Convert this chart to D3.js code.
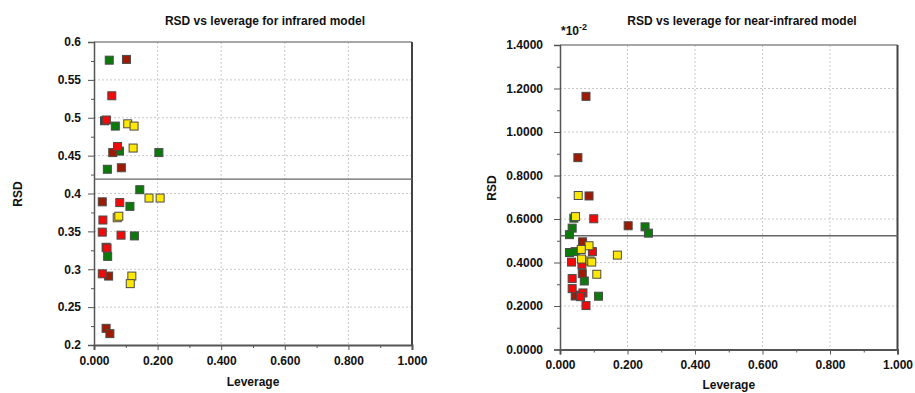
<!DOCTYPE html>
<html><head><meta charset="utf-8">
<script src="https://cdn.jsdelivr.net/npm/d3@7"></script>
<style>
body{margin:0;background:#fff}
svg{display:block}
text{font-family:"Liberation Sans",Arial,sans-serif;font-weight:bold;fill:#111}
</style>
</head><body>
<svg id="c" width="915" height="393"></svg>
<script>
// ---------- data ----------
const seriesColors = ["#0b7a0b", "#9e1a00", "#f20a0a", "#ffe800"]; // green, dark red, red, yellow

// Infrared model: [leverage, RSD]
const irGreen   = [[0.048,0.576],[0.067,0.489],[0.080,0.456],[0.204,0.454],[0.042,0.432],[0.144,0.405],[0.113,0.383],[0.127,0.344],[0.043,0.317]];
const irDarkRed = [[0.102,0.577],[0.033,0.496],[0.059,0.454],[0.086,0.434],[0.026,0.389],[0.038,0.329],[0.046,0.291],[0.038,0.222],[0.050,0.215]];
const irRed     = [[0.056,0.529],[0.039,0.497],[0.074,0.462],[0.081,0.388],[0.028,0.365],[0.026,0.349],[0.085,0.345],[0.041,0.328],[0.026,0.294]];
const irYellow  = [[0.106,0.492],[0.126,0.489],[0.123,0.460],[0.173,0.394],[0.208,0.394],[0.073,0.368],[0.078,0.370],[0.119,0.291],[0.114,0.281]];
const irThreshold = 0.419;

// Near-infrared model: [leverage, RSD (*10^-2)]
const nirGreen   = [[0.041,0.604],[0.252,0.564],[0.262,0.535],[0.036,0.558],[0.028,0.528],[0.045,0.450],[0.028,0.446],[0.072,0.315],[0.114,0.245]];
const nirDarkRed = [[0.077,1.164],[0.053,0.882],[0.086,0.706],[0.202,0.569],[0.067,0.495],[0.066,0.349],[0.045,0.246],[0.051,0.250]];
const nirRed     = [[0.100,0.601],[0.096,0.450],[0.034,0.402],[0.065,0.390],[0.036,0.326],[0.036,0.280],[0.068,0.260],[0.061,0.243],[0.077,0.202]];
const nirYellow  = [[0.054,0.708],[0.046,0.611],[0.086,0.477],[0.063,0.460],[0.064,0.416],[0.089,0.407],[0.094,0.402],[0.109,0.346],[0.170,0.434]];
const nirThreshold = 0.523;

const irYTicks  = [0.2,0.25,0.3,0.35,0.4,0.45,0.5,0.55,0.6];
const nirYTicks = [0,0.2,0.4,0.6,0.8,1.0,1.2,1.4];
const xTicks    = [0,0.2,0.4,0.6,0.8,1.0];

// ---------- drawing ----------
const svg = d3.select("#c");

function chart(cfg){
  const g = svg.append("g");
  const x = d3.scaleLinear().domain([0,1]).range([cfg.x0, cfg.x1]);
  const y = d3.scaleLinear().domain(cfg.yDomain).range([cfg.yBot, cfg.yTop]);

  // grid
  g.append("g").selectAll("line").data(xTicks.slice(1,-1)).join("line")
    .attr("x1",d=>x(d)).attr("x2",d=>x(d)).attr("y1",cfg.yTop).attr("y2",cfg.yBot)
    .attr("stroke","#c8c8c8").attr("stroke-dasharray","2,2");
  g.append("g").selectAll("line").data(cfg.yTicks.slice(1,-1)).join("line")
    .attr("y1",d=>y(d)).attr("y2",d=>y(d)).attr("x1",cfg.x0).attr("x2",cfg.x1)
    .attr("stroke","#c8c8c8").attr("stroke-dasharray","2,2");

  // frame
  g.append("line").attr("x1",cfg.x0).attr("x2",cfg.x1).attr("y1",cfg.yTop).attr("y2",cfg.yTop).attr("stroke","#8a8a8a").attr("stroke-width",1.5);
  g.append("line").attr("x1",cfg.x1).attr("x2",cfg.x1).attr("y1",cfg.yTop).attr("y2",cfg.yBot).attr("stroke","#444").attr("stroke-width",2);

  // axes
  const minorY = [];
  for(let i=0;i<cfg.yTicks.length-1;i++) minorY.push((cfg.yTicks[i]+cfg.yTicks[i+1])/2);
  const minorX = [0.1,0.3,0.5,0.7,0.9];

  const ya = g.append("g").attr("transform",`translate(${cfg.x0},0)`)
    .call(d3.axisLeft(y).tickValues(cfg.yTicks).tickFormat(cfg.yFmt).tickSize(6).tickPadding(cfg.yPad));
  ya.select(".domain").attr("stroke","#555").attr("stroke-width",1.5);
  ya.selectAll(".tick line").attr("stroke","#555");
  ya.selectAll("text").style("font-size","12px").style("font-family","'Liberation Sans',Arial,sans-serif").style("font-weight","bold").attr("fill","#111");
  g.append("g").attr("transform",`translate(${cfg.x0},0)`)
    .call(d3.axisLeft(y).tickValues(minorY).tickFormat("").tickSize(3))
    .call(s=>{s.select(".domain").remove(); s.selectAll("line").attr("stroke","#555");});

  const xa = g.append("g").attr("transform",`translate(0,${cfg.yBot})`)
    .call(d3.axisBottom(x).tickValues(xTicks).tickFormat(d3.format(".3f")).tickSize(5).tickPadding(6));
  xa.select(".domain").attr("stroke","#555").attr("stroke-width",2);
  xa.selectAll(".tick line").attr("stroke","#555");
  xa.selectAll("text").style("font-size","12px").style("font-family","'Liberation Sans',Arial,sans-serif").style("font-weight","bold").attr("fill","#111");
  g.append("g").attr("transform",`translate(0,${cfg.yBot})`)
    .call(d3.axisBottom(x).tickValues(minorX).tickFormat("").tickSize(3))
    .call(s=>{s.select(".domain").remove(); s.selectAll("line").attr("stroke","#555");});

  // threshold line
  g.append("line").attr("x1",cfg.x0).attr("x2",cfg.x1).attr("y1",y(cfg.threshold)).attr("y2",y(cfg.threshold))
    .attr("stroke","#666").attr("stroke-width",1.3);

  // points
  cfg.series.forEach((pts,i)=>{
    g.append("g").selectAll("rect").data(pts).join("rect")
      .attr("x",d=>x(d[0])-4).attr("y",d=>y(d[1])-4)
      .attr("width",8).attr("height",8)
      .attr("fill",seriesColors[i]).attr("stroke","#4a4a4a").attr("stroke-width",1);
  });

  // texts
  const cx = (cfg.x0+cfg.x1)/2;
  g.append("text").attr("x",cfg.titleX).attr("y",25).attr("text-anchor","middle").style("font-size","12px").text(cfg.title);
  g.append("text").attr("x",cx).attr("y",cfg.levY).attr("text-anchor","middle").style("font-size","12px").text("Leverage");
  g.append("text").attr("transform",`translate(${cfg.rsdX},${cfg.rsdY}) rotate(-90)`)
    .attr("text-anchor","middle").style("font-size","12px").text("RSD");
  return g;
}

chart({x0:94,x1:412,yTop:42,yBot:345,yDomain:[0.2,0.6],yTicks:irYTicks,yFmt:d3.format(".2~f"),yPad:7,
  threshold:irThreshold,series:[irGreen,irDarkRed,irRed,irYellow],
  title:"RSD vs leverage for infrared model",titleX:265,rsdX:22,rsdY:194,levY:386});

const g2 = chart({x0:560,x1:897.5,yTop:45,yBot:349.5,yDomain:[0,1.4],yTicks:nirYTicks,yFmt:d3.format(".4f"),yPad:11,
  threshold:nirThreshold,series:[nirGreen,nirDarkRed,nirRed,nirYellow],
  title:"RSD vs leverage for near-infrared model",titleX:742,rsdX:496,rsdY:188,levY:389});

const mult = g2.append("text").attr("x",561).attr("y",35).style("font-size","12px");
mult.append("tspan").text("*10");
mult.append("tspan").attr("dy",-5).style("font-size","9px").text("-2");
</script>
</body></html>
